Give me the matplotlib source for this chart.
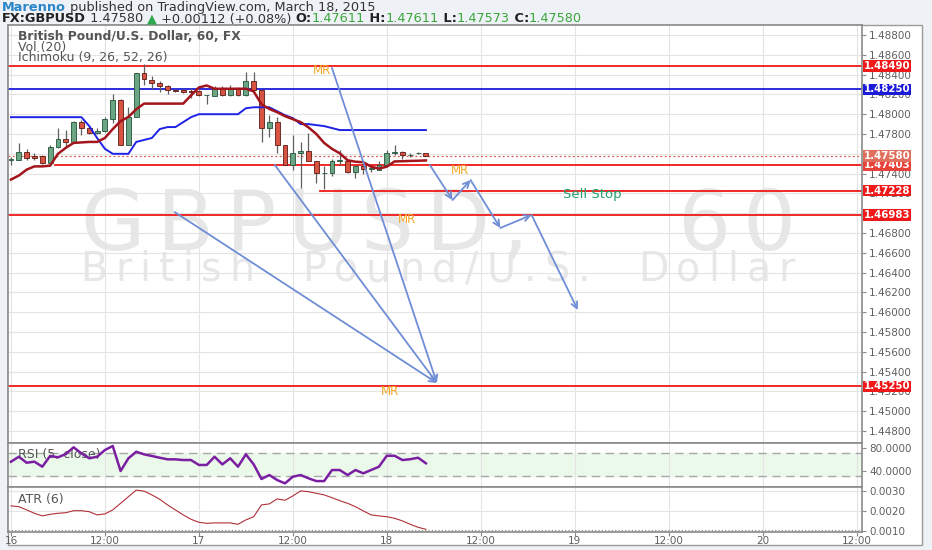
import matplotlib
matplotlib.use('Agg')
import matplotlib.pyplot as plt
from matplotlib.patches import Rectangle

plt.rcParams['font.family'] = ['DejaVu Sans']

W, H = 932, 550

# hourly candles, hour 0 = Mar 16 00:00
hours = list(range(54))
opens = [1.4754, 1.4754, 1.47623, 1.47573, 1.47573, 1.47507, 1.47667, 1.47747, 1.47717, 1.47923,
         1.47857, 1.47807, 1.47833, 1.47947, 1.4814, 1.4769, 1.47973, 1.48413, 1.4835, 1.48317,
         1.4828, 1.4824, 1.4824, 1.4823, 1.48233, 1.4819, 1.4818, 1.48257, 1.4819, 1.48257,
         1.4819, 1.48333, 1.4824, 1.47857, 1.47923, 1.4769, 1.4749, 1.47607, 1.4763, 1.47523,
         1.47407, 1.47407, 1.47523, 1.4753, 1.47413, 1.47473, 1.47443, 1.4744, 1.4749, 1.47613,
         1.47623, 1.4759, 1.47605, 1.47611]
highs = [1.47567, 1.47707, 1.47647, 1.47607, 1.4759, 1.4769, 1.47857, 1.4784, 1.4793, 1.4794,
         1.4788, 1.47857, 1.47967, 1.48207, 1.48157, 1.48073, 1.48413, 1.48507, 1.4839, 1.4834,
         1.483, 1.48257, 1.4825, 1.4826, 1.48247, 1.4819, 1.4828, 1.4828, 1.483, 1.48273,
         1.48423, 1.48423, 1.4824, 1.4799, 1.47973, 1.4769, 1.4779, 1.47723, 1.47807, 1.47523,
         1.47473, 1.47547, 1.4764, 1.4754, 1.4748, 1.47507, 1.47473, 1.47523, 1.4764, 1.4769,
         1.4763, 1.47607, 1.47615, 1.47611]
lows = [1.4749, 1.47533, 1.4754, 1.47533, 1.475, 1.475, 1.47657, 1.47673, 1.47707, 1.4779,
        1.478, 1.478, 1.4782, 1.47907, 1.4769, 1.4769, 1.47973, 1.4829, 1.48257, 1.48223,
        1.48207, 1.48223, 1.4821, 1.4816, 1.48187, 1.48107, 1.4818, 1.4818, 1.4818, 1.4818,
        1.4818, 1.48233, 1.47723, 1.47773, 1.47607, 1.4749, 1.4744, 1.47257, 1.47523, 1.47307,
        1.4724, 1.47373, 1.4749, 1.47407, 1.47357, 1.47393, 1.47413, 1.47433, 1.47473, 1.4759,
        1.47547, 1.4757, 1.47595, 1.47573]
closes = [1.47545, 1.47623, 1.47557, 1.47553, 1.47507, 1.47667, 1.47747, 1.47717, 1.47923, 1.47857,
          1.47807, 1.47833, 1.47947, 1.4814, 1.4769, 1.47973, 1.48413, 1.48357, 1.48317, 1.4828,
          1.4824, 1.48233, 1.4822, 1.48227, 1.4819, 1.4819, 1.48257, 1.4819, 1.48257, 1.4819,
          1.48333, 1.4824, 1.47857, 1.47923, 1.4769, 1.4749, 1.47607, 1.4763, 1.47523, 1.47407,
          1.47407, 1.47523, 1.47537, 1.47413, 1.47473, 1.47443, 1.47457, 1.4749, 1.47607, 1.47623,
          1.4759, 1.4759, 1.4761, 1.4758]

tenkan = [1.4734, 1.4738, 1.4744, 1.47473, 1.47473, 1.4748, 1.476, 1.4766, 1.4771, 1.47715,
          1.4772, 1.4772, 1.4776, 1.4785, 1.4793, 1.47973, 1.4805, 1.48107, 1.48107, 1.48107,
          1.48107, 1.48107, 1.48107, 1.4819, 1.4827, 1.4829, 1.48257, 1.48257, 1.48257, 1.48257,
          1.48257, 1.4823, 1.481, 1.48053, 1.4802, 1.4798, 1.4795, 1.4792, 1.47867, 1.478,
          1.4771, 1.4765, 1.47605, 1.47535, 1.4752, 1.47515, 1.4747, 1.4745, 1.4747, 1.47523,
          1.47525, 1.47528, 1.4753, 1.47533]
kijun = [1.4797, 1.4797, 1.4797, 1.4797, 1.4797, 1.4797, 1.4797, 1.4797, 1.4797, 1.4797,
         1.4788, 1.4776, 1.4765, 1.476, 1.476, 1.476, 1.4772, 1.4774, 1.4776, 1.4785,
         1.4787, 1.4787, 1.4792, 1.4797, 1.48, 1.48, 1.48, 1.48, 1.48, 1.48,
         1.4806, 1.4807, 1.4807, 1.4807, 1.4803, 1.4799, 1.4796, 1.479, 1.479, 1.4789,
         1.4788, 1.4786, 1.4784, 1.4784, 1.4784, 1.4784, 1.4784, 1.4784, 1.4784, 1.4784,
         1.4784, 1.4784, 1.4784, 1.4784]

rsi = [55.7, 64.3, 53.9, 55.7, 47, 65.6, 63.3, 69, 80.7, 70.2,
       61.6, 64.3, 76, 83, 39.5, 61.6, 73, 68.5, 65.6, 62.6,
       59.8, 59.8, 58.6, 58.6, 50, 50, 64.3, 51, 61.6, 47,
       68.5, 51, 25.6, 32.5, 23.8, 18, 29.6, 32.5, 26.8, 22,
       22, 41.2, 41.2, 32.5, 41.2, 35.5, 41.2, 47, 66, 66,
       58.6, 60, 62.6, 52.9]
atr = [0.00224, 0.0022, 0.00204, 0.00187, 0.00174, 0.00182, 0.00187, 0.0019, 0.002, 0.002,
       0.00195, 0.00179, 0.00184, 0.00204, 0.00237, 0.0027, 0.00303, 0.00298, 0.00279, 0.00257,
       0.00229, 0.00204, 0.00179, 0.00157, 0.00142, 0.00137, 0.00139, 0.00139, 0.00139, 0.00132,
       0.00154, 0.0017, 0.00229, 0.00234, 0.00259, 0.00252, 0.00274, 0.00299, 0.00295, 0.00287,
       0.00279, 0.00265, 0.0025, 0.00237, 0.0022, 0.00199, 0.00179, 0.00174, 0.0017, 0.00162,
       0.00149, 0.00132, 0.00117, 0.00107]

# drawn levels
levels = [1.4849, 1.4825, 1.4749, 1.47228, 1.46983, 1.4525]
level_start = [-0.4, -0.4, 5.6, 39.5, -0.4, -0.4]
level_colors = ['#f01818', '#1c1cd8', '#f01818', '#f01818', '#f01818', '#f01818']
level_text = ['1.48490', '1.48250', '1.47403', '1.47228', '1.46983', '1.45250']
tag_prices = [1.4849, 1.4825, 1.47482, 1.47228, 1.46983, 1.4525]
last_price = 1.4758

# arrows: (hour0, price0, hour1, price1)
arrows = [(20.9, 1.47012, 54.4, 1.45285),
          (33.7, 1.47487, 54.4, 1.45285),
          (41.0, 1.48467, 54.4, 1.45285),
          (53.5, 1.47487, 56.4, 1.47133),
          (56.4, 1.47133, 58.7, 1.47335),
          (58.7, 1.47335, 62.5, 1.46851),
          (62.5, 1.46851, 66.5, 1.46982),
          (66.5, 1.46982, 72.4, 1.46022)]
notes = [('MR', 39.7, 1.48446), ('MR', 57.3, 1.47436), ('MR', 50.6, 1.46941), ('MR', 48.4, 1.45204)]
sell_stop = ('Sell Stop', 74.2, 1.47184)

x_ticks = [0, 12, 24, 36, 48, 60, 72, 84, 96, 108]
x_labels = ['16', '12:00', '17', '12:00', '18', '12:00', '19', '12:00', '20', '12:00']
price_ticks = [1.448 + 0.002 * k for k in range(21)]
hidden_ticks = [1.470, 1.476]  # covered by the price tags

fig = plt.figure(figsize=(W / 100, H / 100), dpi=100, facecolor='#eef1f5')
renderer = fig.canvas.get_renderer()


def rect(top, bottom, left=8, right=862):
    return [left / W, 1 - bottom / H, (right - left) / W, (bottom - top) / H]


def text_width(s, size, weight='normal'):
    t = fig.text(0, 0, s, fontsize=size, fontweight=weight)
    w = t.get_window_extent(renderer).width
    t.remove()
    return w


def run_text(x, base, pieces, size):
    # pieces of (text, color, weight) laid out one after another
    for s, col, wt in pieces:
        fig.text(x / W, 1 - base / H, s, fontsize=size, color=col, fontweight=wt, va='baseline')
        x += text_width(s, size, wt)


def spaced(ax, s, x0, x1, base, size, color, gap):
    # letter-spaced watermark, spaces take up what is left
    ws = [0 if ch == ' ' else text_width(ch, size) for ch in s]
    n_sp = s.count(' ')
    sp = (x1 - x0 - sum(ws) - gap * (len(s) - 1 - n_sp)) / max(n_sp, 1)
    x = x0
    for ch, w in zip(s, ws):
        if ch == ' ':
            x += sp
            continue
        ax.text(x / W, 1 - base / H, ch, transform=fig.transFigure, fontsize=size,
                color=color, va='baseline', ha='left', zorder=0.3)
        x += w + gap


fig.add_artist(Rectangle((8 / W, 1 - 545 / H), 914 / W, 520 / H, transform=fig.transFigure,
                         fc='white', ec='#9c9c9c', lw=1, zorder=-1))

ax = fig.add_axes(rect(25, 443))
rsi_ax = fig.add_axes(rect(443, 487), sharex=ax)
atr_ax = fig.add_axes(rect(487, 532), sharex=ax)

for a in (ax, rsi_ax, atr_ax):
    a.set_facecolor('white')
    a.yaxis.tick_right()
    a.set_xticks(x_ticks)
    a.grid(True, color='#e4e4e4', lw=0.8)
    a.set_axisbelow(True)
    for sp in a.spines.values():
        sp.set_color('#8a8a8a')
        sp.set_linewidth(1.2)
    a.tick_params(axis='y', colors='#8a8a8a', labelcolor='#606060', labelsize=7.5, length=3, pad=2)
    a.tick_params(axis='x', length=0, labelbottom=False)

ax.set_xlim(-0.38, 108.7)

# candles
up_fill, up_edge = '#6ba583', '#225437'
dn_fill, dn_edge = '#d75442', '#5b1a13'
bottoms = [min(o, c) for o, c in zip(opens, closes)]
heights = [max(abs(c - o), 0.000015) for o, c in zip(opens, closes)]
fills = [up_fill if c >= o else dn_fill for o, c in zip(opens, closes)]
edges = [up_edge if c >= o else dn_edge for o, c in zip(opens, closes)]
ax.vlines(hours, lows, highs, color='#5f5f5f', lw=0.9, zorder=3)
ax.bar(hours, heights, bottom=bottoms, width=0.62, color=fills, edgecolor=edges, lw=0.6, zorder=4)

ax.plot(hours, kijun, color='#1e22e6', lw=1.4, zorder=5)
ax.plot(hours, tenkan, color='#a3151c', lw=1.8, zorder=5)

for lvl, x0, col in zip(levels, level_start, level_colors):
    ax.plot([x0, 108.7], [lvl, lvl], color=col, lw=1.3, zorder=2)
ax.axhline(last_price, color='#e05a4a', lw=0.9, ls=(0, (1.5, 2)), zorder=2)

for h0, p0, h1, p1 in arrows:
    ax.annotate('', xy=(h1, p1), xytext=(h0, p0),
                arrowprops=dict(arrowstyle='->', color='#6f8ed6', lw=1.3, mutation_scale=11,
                                shrinkA=0, shrinkB=0), zorder=6)
for s, h, p in notes:
    ax.text(h, p, s, color='#f5a623', fontsize=8.5, ha='center', va='center', zorder=7)
ax.text(sell_stop[1], sell_stop[2], sell_stop[0], color='#22a06b', fontsize=9.5, ha='center',
        va='center', zorder=7)

ax.set_ylim(1.44679, 1.48901)
ax.set_yticks(price_ticks)
ax.set_yticklabels(['' if any(abs(v - hv) < 1e-9 for hv in hidden_ticks) else f'{v:.5f}'
                    for v in price_ticks])

# right axis price tags
tag_colors = ['#f01818', '#1c1cd8', '#e8413a', '#f01818', '#f01818', '#f01818']
for p, txt, col in zip(tag_prices, level_text, tag_colors):
    ax.text(1.002, p, txt, transform=ax.get_yaxis_transform(), color='white', fontsize=7.4,
            fontweight='bold', ha='left', va='center', clip_on=False, zorder=8,
            bbox=dict(boxstyle='square,pad=0.08', fc=col, ec='none'))
ax.text(1.002, last_price, f'{last_price:.5f}', transform=ax.get_yaxis_transform(), color='white',
        fontsize=7.4, fontweight='bold', ha='left', va='center', clip_on=False, zorder=9,
        bbox=dict(boxstyle='square,pad=0.08', fc='#e0705e', ec='none'))

# watermark
spaced(ax, 'GBPUSD, 60', 80, 795, 250, 60, '#e7e7e7', 12)
spaced(ax, 'British Pound/U.S. Dollar', 80, 795, 281, 28.5, '#e7e7e7', 8)

ax.text(18 / W, 1 - 40.5 / H, 'British Pound/U.S. Dollar, 60, FX', transform=fig.transFigure,
        fontsize=8.8, fontweight='bold', color='#555555', va='baseline')
ax.text(18 / W, 1 - 51 / H, 'Vol (20)', transform=fig.transFigure, fontsize=9, color='#555555',
        va='baseline')
ax.text(18 / W, 1 - 61.5 / H, 'Ichimoku (9, 26, 52, 26)', transform=fig.transFigure, fontsize=9,
        color='#555555', va='baseline')

# RSI
rsi_ax.axhspan(30, 70, color='#ebf9eb', zorder=0.5)
rsi_ax.axhline(70, color='#a8a8a8', lw=1, ls=(0, (6, 4)))
rsi_ax.axhline(30, color='#a8a8a8', lw=1, ls=(0, (6, 4)))
rsi_ax.plot(hours, rsi, color='#7b1fa2', lw=1.8, zorder=5)
rsi_ax.set_ylim(11.7, 88.2)
rsi_ax.set_yticks([40, 80])
rsi_ax.set_yticklabels(['40.0000', '80.0000'])
rsi_ax.grid(False, axis='y')
rsi_ax.text(18 / W, 1 - 458 / H, 'RSI (5, close)', transform=fig.transFigure, fontsize=9,
            color='#555555', va='baseline')

# ATR
atr_ax.plot(hours, atr, color='#b0303a', lw=0.8, zorder=5)
atr_ax.axhline(0.00104, color='#8a8a8a', lw=0.8, ls=(0, (1, 2)))
atr_ax.set_ylim(0.000935, 0.003185)
atr_ax.set_yticks([0.001, 0.002, 0.003])
atr_ax.set_yticklabels(['0.0010', '0.0020', '0.0030'])
atr_ax.text(18 / W, 1 - 503 / H, 'ATR (6)', transform=fig.transFigure, fontsize=9,
            color='#555555', va='baseline')
atr_ax.tick_params(axis='x', length=3, colors='#8a8a8a', labelcolor='#606060', labelsize=7.5,
                   labelbottom=True, pad=0)
atr_ax.set_xticklabels(x_labels)

# header
run_text(2, 11, [('Marenno', '#2a86c8', 'bold'),
                 (' published on TradingView.com, March 18, 2015', '#333333', 'normal')], 9.3)
run_text(2, 22.5, [('FX:GBPUSD', '#222222', 'bold'), (' 1.47580 ', '#333333', 'normal'),
                   ('▲', '#2fa84f', 'normal'), (' +0.00112 (+0.08%) ', '#333333', 'normal'),
                   ('O:', '#222222', 'bold'), ('1.47611', '#3aa63a', 'normal'),
                   (' H:', '#222222', 'bold'), ('1.47611', '#3aa63a', 'normal'),
                   (' L:', '#222222', 'bold'), ('1.47573', '#3aa63a', 'normal'),
                   (' C:', '#222222', 'bold'), ('1.47580', '#3aa63a', 'normal')], 9.3)

fig.savefig('out.png', dpi=100, facecolor=fig.get_facecolor())
